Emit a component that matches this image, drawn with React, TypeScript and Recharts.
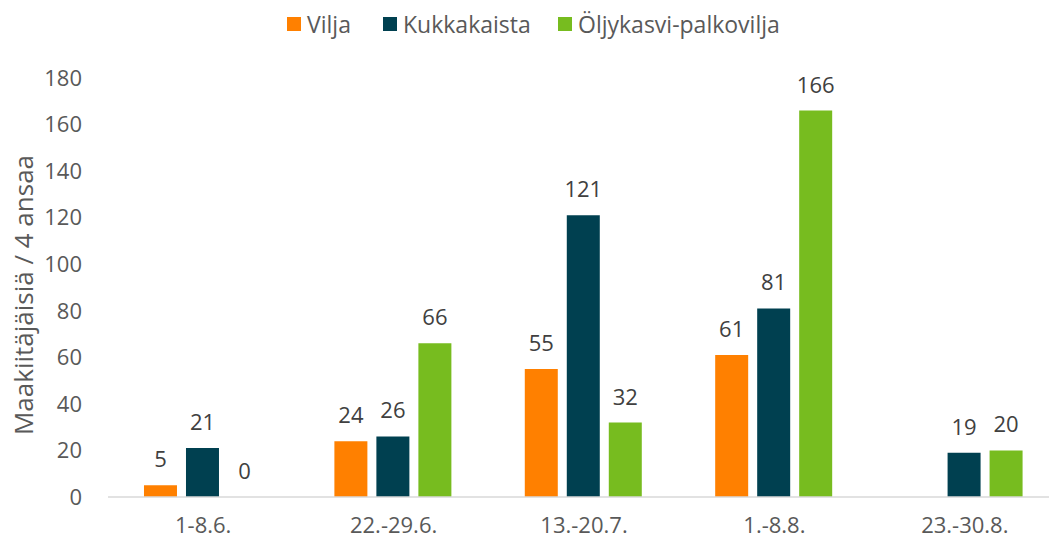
import { FC } from 'react';
import { BarChart, Bar, XAxis, YAxis, LabelList, Rectangle } from 'recharts';

const periods = ['1-8.6.', '22.-29.6.', '13.-20.7.', '1.-8.8.', '23.-30.8.'];
const vilja: (number | null)[] = [5, 24, 55, 61, null];
const kukkakaista = [21, 26, 121, 81, 19];
const oljykasvi = [0, 66, 32, 166, 20];
const yTicks = [0, 20, 40, 60, 80, 100, 120, 140, 160, 180];

const series = [
  { key: 'vilja', name: 'Vilja', color: '#FF8000', legendX: 287 },
  { key: 'kukkakaista', name: 'Kukkakaista', color: '#004050', legendX: 383 },
  { key: 'oljykasvi', name: 'Öljykasvi-palkovilja', color: '#77BC1F', legendX: 558 },
];

const data = periods.map((p, i) => ({
  period: p,
  vilja: vilja[i],
  kukkakaista: kukkakaista[i],
  oljykasvi: oljykasvi[i],
}));

const FONT = '"Open Sans", "Noto Sans", sans-serif';

const Legend: FC = () => (
  <>
    {series.map((s) => (
      <div
        key={s.key}
        style={{
          position: 'absolute',
          top: 7,
          left: s.legendX,
          height: 34,
          display: 'flex',
          alignItems: 'center',
          fontFamily: FONT,
          fontSize: 23,
          color: '#595959',
          whiteSpace: 'nowrap',
          zIndex: 2,
        }}
      >
        <span style={{ width: 14, height: 14, background: s.color, display: 'inline-block', marginRight: 6 }} />
        <span>{s.name}</span>
      </div>
    ))}
  </>
);

// value label drawn above each bar
const ValueLabel = (props: any) => {
  const { x, y, width, height, value } = props;
  if (value == null || x == null) return null;
  // zero bars get a 1px min size so their label survives; put label on the baseline
  const top = value === 0 ? Number(y) + Number(height) : Number(y);
  return (
    <text
      x={Number(x) + Number(width) / 2}
      y={top - 18}
      textAnchor="middle"
      fill="#404040"
      fontSize={22}
      fontFamily={FONT}
    >
      {String(value)}
    </text>
  );
};

// hide the 1px placeholder drawn for zero values
const BarShape = (props: any) => {
  const v = props.value;
  const raw = Array.isArray(v) ? v[1] - v[0] : v;
  if (raw === 0) return <g />;
  return <Rectangle {...props} />;
};

const App: FC = () => {
  return (
    <div
      style={{
        position: 'absolute',
        left: 0,
        top: 0,
        width: 1049,
        height: 543,
        background: '#fff',
        overflow: 'hidden',
      }}
    >
      <Legend />
      <BarChart
        width={1060}
        height={543}
        data={data}
        margin={{ top: 78, right: 0, bottom: 0, left: 0 }}
        barCategoryGap="18.9%"
        barGap={9}
      >
        <XAxis
          dataKey="period"
          height={46}
          tickLine={false}
          axisLine={{ stroke: '#D9D9D9', strokeWidth: 1.5 }}
          tickSize={6}
          tickMargin={14}
          tick={{ fill: '#595959', fontSize: 22, fontFamily: FONT }}
        />
        <YAxis
          width={108}
          domain={[0, 180]}
          ticks={yTicks}
          interval={0}
          axisLine={false}
          tickLine={false}
          tickSize={6}
          tickMargin={20}
          tick={{ fill: '#595959', fontSize: 22, fontFamily: FONT }}
          label={{
            content: () => (
              <text
                x={23}
                y={295}
                transform="rotate(-90 23 295)"
                textAnchor="middle"
                dominantBaseline="central"
                fill="#595959"
                fontSize={26}
                fontFamily={FONT}
              >
                Maakiitäjäisiä / 4 ansaa
              </text>
            ),
          }}
        />
        {series.map((s) => (
          <Bar
            key={s.key}
            dataKey={s.key}
            name={s.name}
            fill={s.color}
            minPointSize={(v: any) => (v === 0 ? 1 : 0)}
            shape={BarShape}
            isAnimationActive={false}
          >
            <LabelList dataKey={s.key} content={ValueLabel} />
          </Bar>
        ))}
      </BarChart>
    </div>
  );
};

export default App;
